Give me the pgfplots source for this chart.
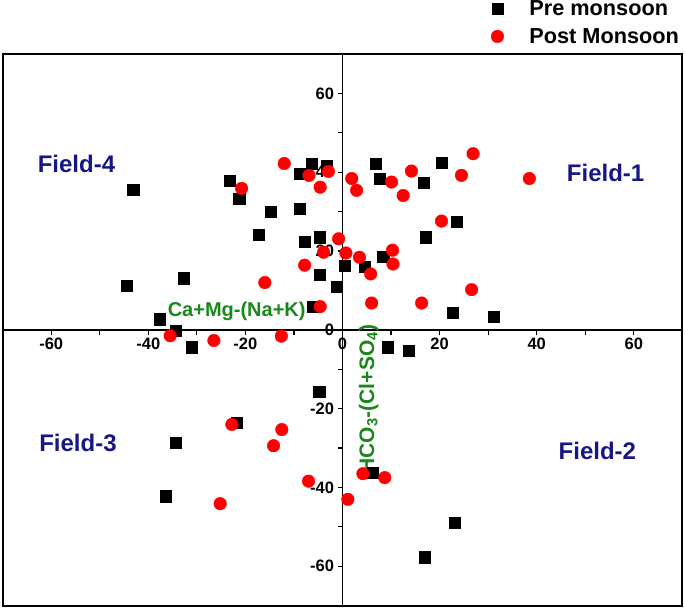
\documentclass[border=0pt]{standalone}
\usepackage{pgfplots}
\pgfplotsset{compat=1.18}
\usepackage{fontspec}
\setmainfont{Liberation Sans}
\usetikzlibrary{calc}
\definecolor{fieldblue}{RGB}{22,22,135}
\definecolor{labgreen}{RGB}{25,135,25}

\begin{document}
\begin{tikzpicture}
\begin{axis}[
    scale only axis,
    width=679.6pt, height=551.7pt,
    xmin=-70, xmax=70, ymin=-70, ymax=70,
    axis lines=middle,
    axis line style={-, line width=1.6pt},
    xtick={-60,-40,...,60}, ytick={-60,-40,...,60},
    minor xtick={-50,-30,-10,10,30,50},
    minor ytick={-50,-30,-10,10,30,50},
    tick align=outside,
    major tick length=5pt, minor tick length=5pt,
    tick style={line width=1.2pt, black},
    hide obscured x ticks=false, hide obscured y ticks=false,
    /pgf/number format/assume math mode=true,
    tick label style={font=\fontsize{16.5}{18}\selectfont\bfseries},
    clip=false,
    legend style={
        draw=none, fill=none,
        font=\fontsize{21.7}{25}\selectfont\bfseries,
        at={(0.714,1.104)}, anchor=north west,
        row sep=7pt,
    },
    legend cell align=left,
    legend image code/.code={
        \draw[#1] plot coordinates {(0pt,0pt)};
        \path[draw=none] (-6pt,0pt) -- (30pt,0pt);
    },
]
\coordinate (bl) at (rel axis cs:0,0);
\coordinate (tr) at (rel axis cs:1,1);

% pre monsoon
\addplot[only marks, mark=square*, mark size=5.6pt, black] coordinates {
(-43.1,35.6) (-44.4,11.2) (-32.7,13.1) (-37.7,2.7) (-34.4,-0.2)
(-23.2,37.8) (-21.3,33.3) (-14.8,30.0) (-17.2,24.2) (-8.9,30.7)
(-6.3,42.2) (-3.2,41.6) (-8.8,39.7) (-7.8,22.4) (-4.7,23.5)
(-4.7,14.0) (-1.2,11.0) (0.5,16.3) (-6.2,5.9) (6.9,42.1)
(7.7,38.4) (16.8,37.3) (20.4,42.4) (23.5,27.5) (17.1,23.5)
(8.4,18.5) (4.5,16.1) (22.7,4.4) (31.2,3.4) (-31.1,-4.4)
(-4.8,-15.7) (-21.8,-23.6) (-34.4,-28.6) (-36.4,-42.2) (9.3,-4.4)
(13.7,-5.3) (6.3,-36.2) (23.1,-48.9) (17.0,-57.7)
};
\addlegendentry{Pre monsoon}

% post monsoon
\addplot[only marks, mark=*, mark size=6.3pt, red, mark options={draw=red, fill=red}] coordinates {
(-12.0,42.2) (-20.8,35.9) (-6.9,39.2) (-4.6,36.2) (-2.9,40.2)
(-0.8,23.1) (-3.9,19.7) (0.7,19.5) (-7.8,16.4) (-16.0,12.0)
(-4.6,5.9) (26.9,44.7) (1.9,38.4) (2.9,35.4) (10.1,37.5)
(14.2,40.3) (12.5,34.1) (24.5,39.2) (38.5,38.4) (20.4,27.6)
(3.5,18.4) (10.3,20.2) (10.4,16.7) (5.8,14.2) (6.0,6.8)
(16.3,6.8) (26.6,10.2) (-35.5,-1.5) (-26.5,-2.7) (-12.6,-1.6)
(-22.8,-24.0) (-12.5,-25.3) (-14.2,-29.4) (-7.0,-38.4) (-25.2,-44.1)
(1.1,-43.0) (4.2,-36.5) (8.7,-37.5)
};
\addlegendentry{Post Monsoon}

\draw[line width=2pt] (rel axis cs:0,0) rectangle (rel axis cs:1,1);

\node[font=\fontsize{24}{28}\selectfont\bfseries, text=fieldblue] at (axis cs:-54.8,42.0) {Field-4};
\node[font=\fontsize{24}{28}\selectfont\bfseries, text=fieldblue] at (axis cs:54.2,39.8) {Field-1};
\node[font=\fontsize{24}{28}\selectfont\bfseries, text=fieldblue] at (axis cs:-54.5,-28.6) {Field-3};
\node[font=\fontsize{24}{28}\selectfont\bfseries, text=fieldblue] at (axis cs:52.5,-30.8) {Field-2};

\node[font=\fontsize{20}{24}\selectfont\bfseries, text=labgreen] at (axis cs:-21.8,4.6) {Ca+Mg-(Na+K)};
\node[font=\fontsize{21}{24}\selectfont\bfseries, text=labgreen, rotate=90] at (axis cs:5.4,-17.6) {HCO\textsubscript{3}-(Cl+SO\textsubscript{4})};
\end{axis}
\pgfresetboundingbox
\path ($(bl)+(-2.7pt,-2.3pt)$) rectangle ($(tr)+(2.7pt,54pt)$);
\end{tikzpicture}
\end{document}
